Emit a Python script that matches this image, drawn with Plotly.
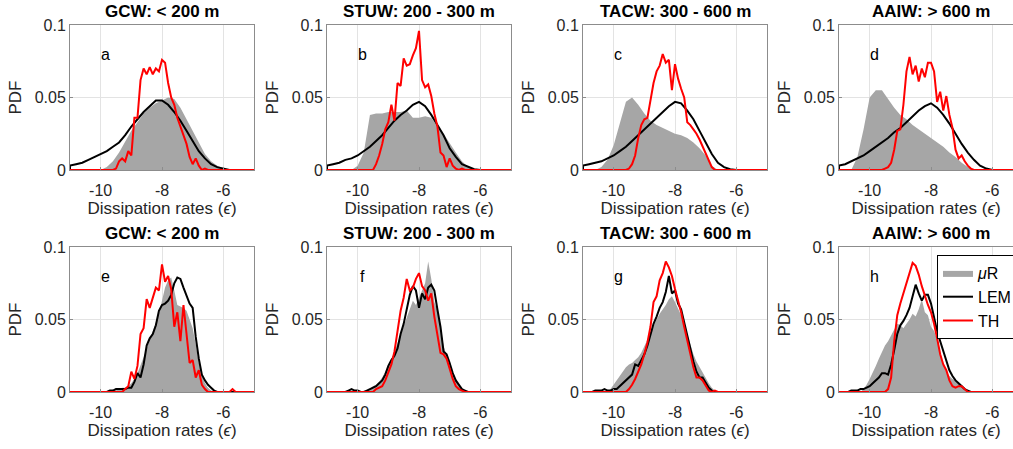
import plotly.graph_objects as go

# panel titles and letters
TITLES = ["GCW: < 200 m", "STUW: 200 - 300 m", "TACW: 300 - 600 m", "AAIW: > 600 m"] * 2
LETTERS = ["a", "b", "c", "d", "e", "f", "g", "h"]
XTICKS = [-10, -8, -6]
YTICKS = [0, 0.05, 0.1]
YTICKTEXT = ["0", "0.05", "0.1"]

# ---- top row (a-d): (first bin centre, bin width, values) ----
mur_a = (-10.0, 0.2, [0.0, 0.002, 0.006, 0.012, 0.019, 0.027, 0.033, 0.039, 0.043, 0.046, 0.048,
                      0.050, 0.049, 0.043, 0.035, 0.027, 0.018, 0.011, 0.006, 0.003, 0.001, 0.0])
lem_a = (-11.0, 0.2, [0.003, 0.004, 0.005, 0.007, 0.009, 0.011, 0.013, 0.016, 0.019, 0.024, 0.030,
                      0.035, 0.040, 0.044, 0.048, 0.048, 0.045, 0.040, 0.034, 0.027, 0.020, 0.013,
                      0.008, 0.004, 0.002, 0.001, 0.0])
th_a = (-9.6, 0.1, [0.0, 0.001, 0.006, 0.008, 0.006, 0.013, 0.010, 0.036, 0.036, 0.062, 0.070, 0.066,
                    0.071, 0.066, 0.070, 0.068, 0.076, 0.074, 0.060, 0.050, 0.045, 0.036, 0.030, 0.025,
                    0.018, 0.009, 0.004, 0.008, 0.003, 0.0, 0.001, 0.0])

mur_b = (-10.2, 0.2, [0.0, 0.003, 0.012, 0.038, 0.039, 0.039, 0.040, 0.040, 0.040, 0.041, 0.036,
                      0.036, 0.037, 0.036, 0.030, 0.025, 0.018, 0.012, 0.006, 0.002, 0.0])
lem_b = (-11.0, 0.2, [0.003, 0.004, 0.005, 0.007, 0.008, 0.010, 0.013, 0.016, 0.020, 0.024, 0.029,
                      0.034, 0.038, 0.041, 0.045, 0.047, 0.044, 0.038, 0.031, 0.024, 0.015, 0.009,
                      0.004, 0.002, 0.0005, 0.0])
th_b = (-9.5, 0.1, [0.0, 0.004, 0.010, 0.018, 0.028, 0.033, 0.045, 0.034, 0.060, 0.058, 0.077, 0.072,
                    0.073, 0.079, 0.084, 0.096, 0.062, 0.057, 0.059, 0.051, 0.039, 0.030, 0.012, 0.010,
                    0.002, 0.008, 0.003, 0.001, 0.0, 0.001, 0.0])

mur_c = (-10.6, 0.2, [0.0, 0.002, 0.007, 0.017, 0.033, 0.047, 0.050, 0.045, 0.039, 0.034, 0.031,
                      0.029, 0.027, 0.025, 0.024, 0.022, 0.019, 0.015, 0.010, 0.003, 0.0])
lem_c = (-11.0, 0.2, [0.003, 0.004, 0.005, 0.006, 0.008, 0.010, 0.013, 0.016, 0.020, 0.024, 0.028,
                      0.032, 0.036, 0.040, 0.044, 0.047, 0.046, 0.041, 0.035, 0.027, 0.019, 0.011,
                      0.005, 0.002, 0.0005, 0.0])
th_c = (-9.6, 0.1, [0.0, 0.001, 0.004, 0.010, 0.022, 0.031, 0.035, 0.036, 0.048, 0.060, 0.068, 0.072,
                    0.080, 0.074, 0.076, 0.055, 0.073, 0.063, 0.056, 0.050, 0.033, 0.031, 0.028, 0.025,
                    0.021, 0.016, 0.012, 0.007, 0.002, 0.0])

mur_d = (-10.6, 0.2, [0.0, 0.009, 0.028, 0.050, 0.055, 0.055, 0.049, 0.043, 0.038, 0.035, 0.031,
                      0.028, 0.025, 0.022, 0.019, 0.016, 0.012, 0.009, 0.005, 0.002, 0.0])
lem_d = (-11.0, 0.2, [0.003, 0.004, 0.006, 0.008, 0.010, 0.013, 0.016, 0.019, 0.022, 0.026, 0.029,
                      0.033, 0.037, 0.041, 0.044, 0.046, 0.043, 0.038, 0.032, 0.025, 0.018, 0.012,
                      0.007, 0.003, 0.001, 0.0])
th_d = (-9.6, 0.1, [0.0, 0.001, 0.002, 0.005, 0.014, 0.027, 0.028, 0.045, 0.068, 0.078, 0.066, 0.072,
                    0.061, 0.070, 0.064, 0.074, 0.074, 0.068, 0.047, 0.054, 0.041, 0.051, 0.038, 0.029,
                    0.014, 0.008, 0.010, 0.006, 0.003, 0.001, 0.0])

# ---- bottom row (e-h) ----
mur_e = (-9.7, 0.1, [0.0, 0.001, 0.001, 0.002, 0.003, 0.003, 0.004, 0.006, 0.009, 0.013, 0.018, 0.024,
                     0.030, 0.036, 0.042, 0.048, 0.054, 0.063, 0.072, 0.077, 0.079, 0.070, 0.060, 0.059,
                     0.058, 0.056, 0.050, 0.044, 0.033, 0.020, 0.011, 0.006, 0.003, 0.001, 0.0])
lem_e = (-9.8, 0.1, [0.0, 0.001, 0.001, 0.002, 0.002, 0.002, 0.002, 0.003, 0.003, 0.007, 0.013, 0.010,
                     0.019, 0.032, 0.037, 0.040, 0.046, 0.056, 0.060, 0.061, 0.063, 0.067, 0.075, 0.079,
                     0.078, 0.072, 0.066, 0.061, 0.058, 0.038, 0.023, 0.012, 0.008, 0.005, 0.003, 0.001,
                     0.0])
th_e = (-9.3, 0.1, [0.0, 0.002, 0.004, 0.014, 0.009, 0.018, 0.040, 0.044, 0.064, 0.058, 0.066, 0.072,
                    0.070, 0.088, 0.076, 0.080, 0.071, 0.045, 0.055, 0.035, 0.060, 0.040, 0.020, 0.022,
                    0.010, 0.015, 0.005, 0.002, 0.0, 0.0, 0.0, 0.0, 0.0, 0.0, 0.0, 0.0, 0.002, 0.0])

mur_f = (-9.8, 0.1, [0.0, 0.001, 0.002, 0.004, 0.005, 0.007, 0.010, 0.014, 0.018, 0.023, 0.028, 0.034,
                     0.040, 0.046, 0.052, 0.058, 0.063, 0.060, 0.065, 0.070, 0.075, 0.090, 0.078, 0.062,
                     0.056, 0.045, 0.032, 0.025, 0.018, 0.012, 0.008, 0.004, 0.002, 0.0])
lem_f = (-10.4, 0.1, [0.0, 0.001, 0.002, 0.001, 0.001, 0.0, 0.0, 0.001, 0.002, 0.003, 0.004, 0.006,
                      0.008, 0.012, 0.018, 0.022, 0.025, 0.030, 0.040, 0.047, 0.058, 0.067, 0.073, 0.070,
                      0.058, 0.068, 0.064, 0.072, 0.074, 0.070, 0.057, 0.045, 0.028, 0.026, 0.020, 0.013,
                      0.008, 0.005, 0.002, 0.001, 0.0])
th_f = (-9.5, 0.1, [0.0, 0.002, 0.003, 0.004, 0.008, 0.013, 0.019, 0.028, 0.042, 0.056, 0.065, 0.078,
                    0.070, 0.072, 0.078, 0.082, 0.073, 0.070, 0.063, 0.068, 0.052, 0.038, 0.027, 0.026,
                    0.023, 0.016, 0.009, 0.004, 0.002, 0.001, 0.0])

mur_g = (-10.2, 0.1, [0.0, 0.002, 0.005, 0.008, 0.011, 0.014, 0.017, 0.019, 0.020, 0.022, 0.024, 0.027,
                      0.031, 0.036, 0.041, 0.046, 0.050, 0.054, 0.057, 0.060, 0.064, 0.066, 0.062, 0.058,
                      0.053, 0.047, 0.040, 0.032, 0.026, 0.021, 0.017, 0.013, 0.009, 0.006, 0.003, 0.001,
                      0.0])
lem_g = (-10.7, 0.1, [0.0, 0.001, 0.001, 0.001, 0.002, 0.001, 0.001, 0.002, 0.002, 0.004, 0.006, 0.008,
                      0.010, 0.012, 0.019, 0.018, 0.022, 0.026, 0.032, 0.040, 0.047, 0.052, 0.058, 0.062,
                      0.069, 0.080, 0.068, 0.070, 0.061, 0.057, 0.048, 0.038, 0.029, 0.021, 0.014, 0.010,
                      0.010, 0.006, 0.003, 0.001, 0.0])
th_g = (-9.6, 0.1, [0.0, 0.002, 0.005, 0.009, 0.014, 0.019, 0.026, 0.034, 0.045, 0.062, 0.066, 0.077,
                    0.082, 0.090, 0.086, 0.080, 0.071, 0.063, 0.055, 0.045, 0.035, 0.025, 0.017, 0.010,
                    0.010, 0.008, 0.004, 0.001, 0.0, 0.001, 0.0])

mur_h = (-10.3, 0.1, [0.0, 0.002, 0.005, 0.009, 0.013, 0.018, 0.023, 0.028, 0.032, 0.035, 0.039, 0.044,
                      0.047, 0.046, 0.044, 0.047, 0.050, 0.054, 0.052, 0.057, 0.064, 0.055, 0.053, 0.045,
                      0.042, 0.036, 0.026, 0.019, 0.014, 0.011, 0.009, 0.008, 0.006, 0.004, 0.002, 0.001,
                      0.0])
lem_h = (-10.7, 0.1, [0.0, 0.001, 0.001, 0.001, 0.002, 0.002, 0.003, 0.004, 0.006, 0.008, 0.010, 0.013,
                      0.013, 0.012, 0.019, 0.029, 0.040, 0.046, 0.049, 0.053, 0.058, 0.066, 0.074, 0.068,
                      0.063, 0.067, 0.067, 0.061, 0.051, 0.042, 0.035, 0.028, 0.021, 0.015, 0.011, 0.008,
                      0.006, 0.004, 0.002, 0.001, 0.0])
th_h = (-9.5, 0.1, [0.0, 0.002, 0.010, 0.035, 0.053, 0.061, 0.068, 0.075, 0.081, 0.089, 0.087, 0.081,
                    0.073, 0.066, 0.060, 0.055, 0.047, 0.037, 0.026, 0.019, 0.015, 0.008, 0.004, 0.003,
                    0.004, 0.004, 0.002, 0.0])

MUR = [mur_a, mur_b, mur_c, mur_d, mur_e, mur_f, mur_g, mur_h]
LEM = [lem_a, lem_b, lem_c, lem_d, lem_e, lem_f, lem_g, lem_h]
TH = [th_a, th_b, th_c, th_d, th_e, th_f, th_g, th_h]

W, H = 1013, 449
COL_LEFT = [70, 327, 583, 839]   # px
PANEL_W = 184
ROW_TOP = [25, 247]
PANEL_H = 145

FONT = "Liberation Sans, Arial, sans-serif"
GRAY = "#a6a6a6"
FRAME = "#8c8c8c"
TXT = "#262626"


def series(spec):
    x0, step, vals = spec
    xs = [round(x0 + i * step, 2) for i in range(len(vals))]
    return [-11.0] + xs + [-5.0], [0.0] + list(vals) + [0.0]


fig = go.Figure()
annotations = []
for k in range(8):
    row, col = divmod(k, 4)
    n = "" if k == 0 else str(k + 1)
    xa, ya = "x" + n, "y" + n
    left = COL_LEFT[col]
    right = min(left + PANEL_W, W)
    top = ROW_TOP[row]
    bottom = top + PANEL_H
    xr_end = -11 + (right - left) / PANEL_W * 6

    show = k == 7
    xs, ys = series(MUR[k])
    fig.add_trace(go.Scatter(x=xs, y=ys, xaxis=xa, yaxis=ya, mode="lines", fill="tozeroy",
                             fillcolor=GRAY, line=dict(width=0, color=GRAY),
                             name="<i>μ</i>R", showlegend=show))
    xs, ys = series(LEM[k])
    fig.add_trace(go.Scatter(x=xs, y=ys, xaxis=xa, yaxis=ya, mode="lines",
                             line=dict(color="black", width=2), name="LEM", showlegend=show))
    xs, ys = series(TH[k])
    fig.add_trace(go.Scatter(x=xs, y=ys, xaxis=xa, yaxis=ya, mode="lines",
                             line=dict(color="#ff0000", width=2), name="TH", showlegend=show))

    fig.update_layout({
        "xaxis" + n: dict(domain=[left / W, right / W], range=[-11, xr_end], anchor=ya,
                          automargin=False,
                          tickvals=XTICKS, ticktext=[str(t) for t in XTICKS],
                          showgrid=True, gridcolor="#e3e3e3", gridwidth=1, zeroline=False,
                          showline=True, linecolor=FRAME, linewidth=1, mirror=True,
                          ticks="inside", ticklen=3, tickcolor=FRAME, ticklabelstandoff=6,
                          tickfont=dict(size=16, color=TXT, family=FONT),
                          title=dict(text="Dissipation rates (<i>ϵ</i>)", standoff=3,
                                     font=dict(size=17, color=TXT, family=FONT))),
        "yaxis" + n: dict(domain=[1 - bottom / H, 1 - top / H], range=[0, 0.1], anchor=xa,
                          automargin=False,
                          tickvals=YTICKS, ticktext=YTICKTEXT,
                          showgrid=True, gridcolor="#e3e3e3", gridwidth=1, zeroline=False,
                          showline=True, linecolor=FRAME, linewidth=1, mirror=(col != 3),
                          ticks="inside", ticklen=3, tickcolor=FRAME,
                          tickfont=dict(size=16, color=TXT, family=FONT),
                          title=dict(text="PDF", standoff=8,
                                     font=dict(size=17, color=TXT, family=FONT))),
    })

    annotations.append(dict(x=(left + left + PANEL_W) / 2 / W, y=1 - (top - 13) / H,
                            xref="paper", yref="paper", xanchor="center", yanchor="middle",
                            text="<b>" + TITLES[k] + "</b>",
                            showarrow=False, font=dict(size=17, color="black", family=FONT)))
    annotations.append(dict(x=-9.85, y=0.08, xref=xa, yref=ya, text=LETTERS[k], showarrow=False,
                            xanchor="center", yanchor="middle",
                            font=dict(size=16, color="black", family=FONT)))

fig.update_layout(
    width=W, height=H, autosize=False,
    margin=dict(l=0, r=0, t=0, b=0, autoexpand=False),
    paper_bgcolor="white", plot_bgcolor="white",
    annotations=annotations,
    legend=dict(x=937 / W, y=1 - 255 / H, xanchor="left", yanchor="top",
                bgcolor="white", bordercolor="black", borderwidth=1,
                font=dict(size=16, color="black", family=FONT),
                itemwidth=30, tracegroupgap=0),
)

fig.write_html("out.html", config={"displayModeBar": False},
               post_script="document.body.style.margin = '0px';")
